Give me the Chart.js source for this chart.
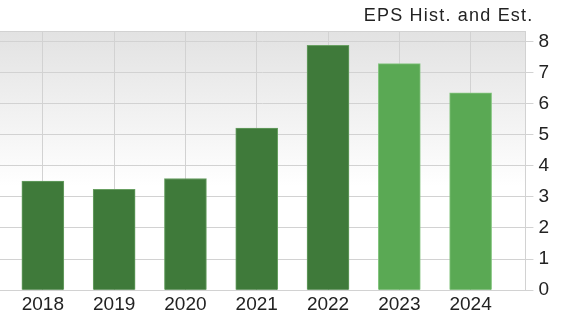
<!DOCTYPE html>
<html>
<head>
<meta charset="utf-8">
<script src="https://cdn.jsdelivr.net/npm/chart.js@4/dist/chart.umd.min.js"></script>
<style>
  html, body { margin: 0; padding: 0; background: #fff; }
  #wrap { width: 568px; height: 321px; }
</style>
</head>
<body>
<div id="wrap"><canvas id="epsChart"></canvas></div>
<script>
const years = [2018, 2019, 2020, 2021, 2022, 2023, 2024];
const eps = [3.51, 3.24, 3.59, 5.21, 7.87, 7.28, 6.34];
const estimate = [false, false, false, false, false, true, true]; // 2023/2024 are estimates
const yTicks = [0, 1, 2, 3, 4, 5, 6, 7, 8];
const chartTitle = 'EPS Hist. and Est.';

const gridColor = '#d2d2d2';
const fontFamily = 'Liberation Sans';

// background gradient + top frame line of the plot area
const plotBg = {
    id: 'plotBg',
    beforeDraw(chart) {
        const { ctx, chartArea: a } = chart;
        const g = ctx.createLinearGradient(0, a.top, 0, a.bottom);
        g.addColorStop(0, '#e2e2e2');
        g.addColorStop(0.6, '#ffffff');
        g.addColorStop(1, '#ffffff');
        ctx.save();
        ctx.fillStyle = g;
        ctx.fillRect(a.left, a.top, a.right - a.left, a.bottom - a.top);
        ctx.strokeStyle = gridColor;
        ctx.lineWidth = 1;
        ctx.beginPath();
        ctx.moveTo(a.left, a.top + 0.5);
        ctx.lineTo(a.right, a.top + 0.5);
        ctx.stroke();
        ctx.restore();
    }
};

// title sits right-aligned a bit in from the plot's right edge (not the canvas edge)
const cornerTitle = {
    id: 'cornerTitle',
    afterDraw(chart) {
        const { ctx, chartArea: a } = chart;
        ctx.save();
        ctx.font = '18px "' + fontFamily + '"';
        ctx.fillStyle = '#222';
        ctx.textAlign = 'right';
        ctx.textBaseline = 'alphabetic';
        ctx.letterSpacing = '1.2px';
        ctx.fillText(chartTitle, a.right + 8, 20.5);
        ctx.restore();
    }
};

const ctx = document.getElementById('epsChart');
new Chart(ctx, {
    type: 'bar',
    plugins: [plotBg, cornerTitle],
    data: {
        datasets: [{
            data: years.map((y, i) => ({ x: y, y: eps[i] })),
            backgroundColor: estimate.map(e => e ? '#5aa954' : '#3f7a3a'),
            borderColor: estimate.map(e => e ? '#86c581' : '#69a063'),
            borderWidth: 1,
            barThickness: 42
        }]
    },
    options: {
        responsive: true,
        maintainAspectRatio: false,
        animation: false,
        layout: {
            padding: { left: 0, right: 14, top: 31, bottom: 2 }
        },
        plugins: {
            legend: { display: false },
            tooltip: { enabled: false },
            title: { display: false }
        },
        scales: {
            x: {
                type: 'linear',
                offset: false,
                min: 2017.399,
                max: 2024.769,
                grid: {
                    offset: false,
                    color: gridColor,
                    drawTicks: false
                },
                border: { color: gridColor },
                ticks: {
                    stepSize: 1,
                    includeBounds: false,
                    padding: 3,
                    color: '#222',
                    font: { family: fontFamily, size: 19 },
                    callback: v => String(v)
                }
            },
            y: {
                position: 'right',
                min: 0,
                max: 8.33,
                grid: {
                    color: gridColor,
                    tickLength: 8
                },
                border: { color: gridColor },
                ticks: {
                    stepSize: 1,
                    includeBounds: false,
                    padding: 5,
                    color: '#222',
                    font: { family: fontFamily, size: 19 },
                    callback: v => yTicks.includes(v) ? String(v) : ''
                }
            }
        }
    }
});
</script>
</body>
</html>
